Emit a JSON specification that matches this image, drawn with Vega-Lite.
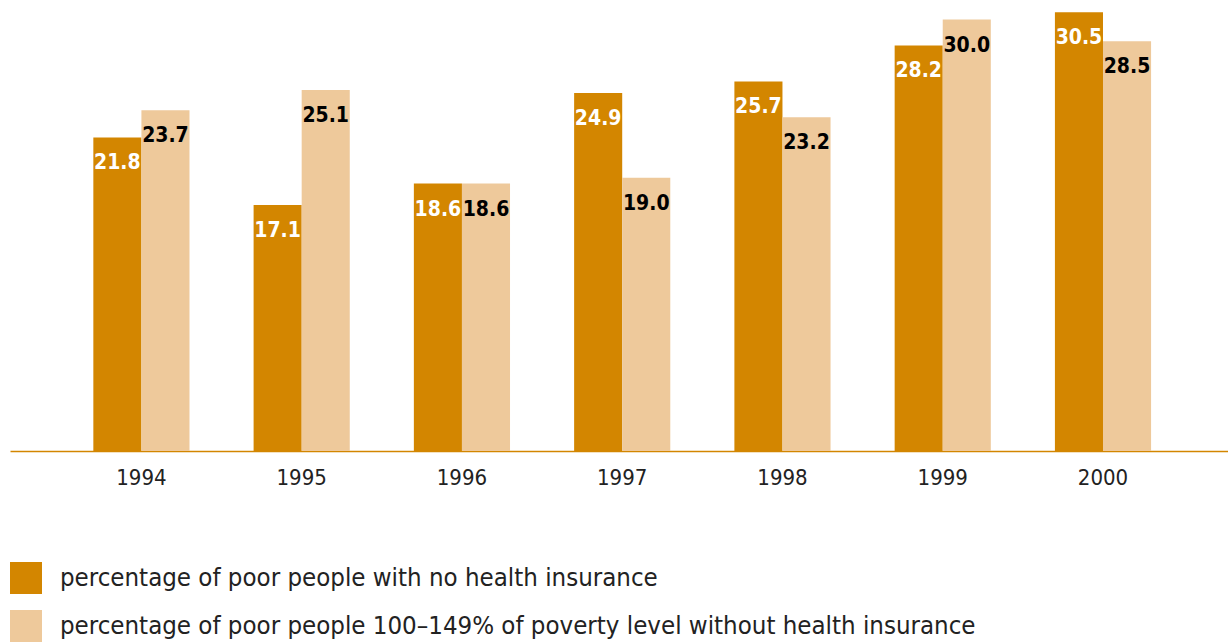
{
  "$schema": "https://vega.github.io/schema/vega-lite/v6.json",
  "autosize": "none",
  "padding": {"left": 10, "top": 0, "right": 0, "bottom": 193},
  "width": 1218,
  "height": 451,
  "background": "white",
  "config": {"view": {"stroke": null}},
  "data": {"values": [
    {"year": "1994", "series": "percentage of poor people with no health insurance", "value": 21.8},
    {"year": "1994", "series": "percentage of poor people 100–149% of poverty level without health insurance", "value": 23.7},
    {"year": "1995", "series": "percentage of poor people with no health insurance", "value": 17.1},
    {"year": "1995", "series": "percentage of poor people 100–149% of poverty level without health insurance", "value": 25.1},
    {"year": "1996", "series": "percentage of poor people with no health insurance", "value": 18.6},
    {"year": "1996", "series": "percentage of poor people 100–149% of poverty level without health insurance", "value": 18.6},
    {"year": "1997", "series": "percentage of poor people with no health insurance", "value": 24.9},
    {"year": "1997", "series": "percentage of poor people 100–149% of poverty level without health insurance", "value": 19.0},
    {"year": "1998", "series": "percentage of poor people with no health insurance", "value": 25.7},
    {"year": "1998", "series": "percentage of poor people 100–149% of poverty level without health insurance", "value": 23.2},
    {"year": "1999", "series": "percentage of poor people with no health insurance", "value": 28.2},
    {"year": "1999", "series": "percentage of poor people 100–149% of poverty level without health insurance", "value": 30.0},
    {"year": "2000", "series": "percentage of poor people with no health insurance", "value": 30.5},
    {"year": "2000", "series": "percentage of poor people 100–149% of poverty level without health insurance", "value": 28.5}
  ]},
  "encoding": {
    "x": {
      "field": "year", "type": "nominal",
      "scale": {"paddingInner": 0.4, "paddingOuter": 0.5, "align": 0.52},
      "axis": {
        "title": null, "labelAngle": 0, "ticks": false,
        "domainColor": "#D38600", "domainWidth": 1.5,
        "labelFont": "DejaVu Sans Condensed",
        "labelFontSize": 22, "labelColor": "#222222", "labelPadding": 16
      }
    },
    "xOffset": {"field": "series", "type": "nominal",
      "scale": {"domain": ["percentage of poor people with no health insurance", "percentage of poor people 100–149% of poverty level without health insurance"], "paddingInner": 0, "paddingOuter": 0}},
    "y": {"field": "value", "type": "quantitative",
      "scale": {"domain": [0, 31.36], "nice": false, "zero": true},
      "axis": null}
  },
  "layer": [
    {
      "mark": {"type": "bar"},
      "encoding": {
        "color": {
          "field": "series", "type": "nominal",
          "scale": {"domain": ["percentage of poor people with no health insurance", "percentage of poor people 100–149% of poverty level without health insurance"], "range": ["#D38600", "#EEC99B"]},
          "legend": {
            "title": null, "orient": "none", "legendX": 0, "legendY": 562,
            "symbolType": "square", "symbolSize": 1024, "symbolStrokeWidth": 0,
            "symbolOpacity": 1,
            "labelFont": "DejaVu Sans Condensed",
            "labelFontSize": 25.6, "labelColor": "#222222", "labelOffset": 18,
            "rowPadding": 16, "labelLimit": 1200, "padding": 0
          }
        }
      }
    },
    {
      "mark": {"type": "text", "baseline": "middle", "dy": 26, "fontWeight": "bold",
        "font": "DejaVu Sans Condensed", "fontSize": 21},
      "encoding": {
        "text": {"field": "value", "type": "quantitative", "format": ".1f"},
        "color": {
          "condition": {"test": "datum.series === 'percentage of poor people with no health insurance'", "value": "#ffffff"},
          "value": "#000000"
        }
      }
    }
  ]
}
